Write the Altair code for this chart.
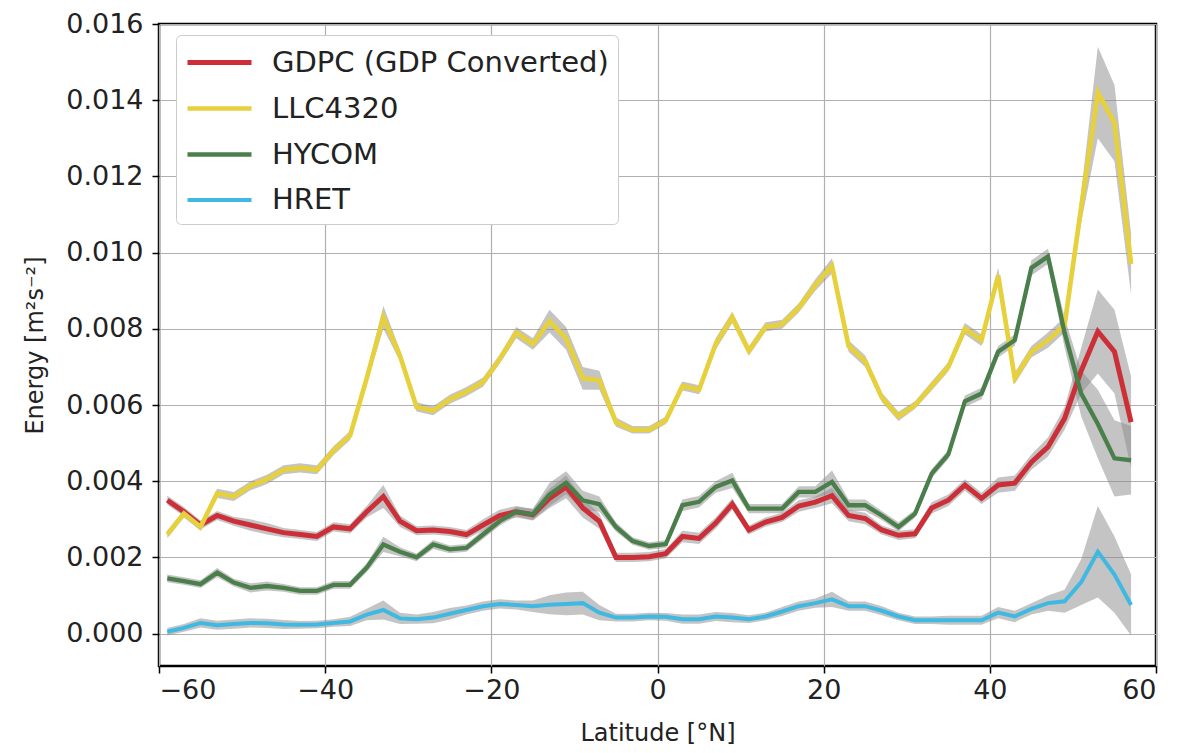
import altair as alt
import pandas as pd

lat = [-59, -57, -55, -53, -51, -49, -47, -45, -43, -41, -39, -37, -35, -33, -31,
       -29, -27, -25, -23, -21, -19, -17, -15, -13, -11, -9, -7, -5, -3, -1,
       1, 3, 5, 7, 9, 11, 13, 15, 17, 19, 21, 23, 25, 27, 29,
       31, 33, 35, 37, 39, 41, 43, 45, 47, 49, 51, 53, 55, 57]

series_names = ["GDPC (GDP Converted)", "LLC4320", "HYCOM", "HRET"]
series_colors = ["#cc2f38", "#e6d03c", "#4a7e4a", "#3fb8e2"]
series_widths = [5.0, 4.0, 3.0, 3.5]

gdpc = [0.0035, 0.0032, 0.00285, 0.0031, 0.00295, 0.00285, 0.00275, 0.00265, 0.0026, 0.00255,
        0.0028, 0.00275, 0.0032, 0.0036, 0.00295, 0.0027, 0.00272, 0.00268, 0.0026, 0.00285,
        0.0031, 0.0032, 0.00312, 0.00355, 0.00385, 0.0033, 0.00295, 0.002, 0.002, 0.00202,
        0.0021, 0.00255, 0.0025, 0.0029, 0.0034, 0.00272, 0.00293, 0.00305, 0.00335, 0.00345,
        0.00362, 0.0031, 0.00302, 0.00272, 0.00258, 0.00262, 0.0033, 0.0035, 0.0039, 0.00355,
        0.0039, 0.00395, 0.0045, 0.0049, 0.00565, 0.0069, 0.00793, 0.0074, 0.00555]
gdpc_err = [0.00012, 0.00012, 0.00012, 0.00012, 0.00012, 0.00015, 0.00015, 0.00012, 0.00012, 0.00012,
            0.00012, 0.00012, 0.00015, 0.0003, 0.00015, 0.00012, 0.00012, 0.00012, 0.00012, 0.00015,
            0.00015, 0.00015, 0.00015, 0.00025, 0.0003, 0.00025, 0.0002, 0.00012, 0.00012, 0.00012,
            0.00012, 0.00015, 0.00015, 0.00015, 0.00015, 0.00012, 0.00012, 0.00012, 0.00015, 0.00015,
            0.0002, 0.00015, 0.00015, 0.00012, 0.00012, 0.00012, 0.00015, 0.00015, 0.00015, 0.00015,
            0.0002, 0.0002, 0.0002, 0.00025, 0.0003, 0.0006, 0.0011, 0.0011, 0.0012]

llc = [0.0026, 0.00315, 0.0028, 0.00368, 0.0036, 0.00388, 0.00405, 0.0043, 0.00435, 0.0043,
       0.0048, 0.0052, 0.0067, 0.0083, 0.0073, 0.00595, 0.00585, 0.00615, 0.00635, 0.0066,
       0.0072, 0.0079, 0.0076, 0.0082, 0.00775, 0.0067, 0.00665, 0.00555, 0.00535, 0.00535,
       0.0056, 0.0065, 0.0064, 0.0076, 0.0083, 0.00742, 0.00805, 0.00812, 0.00855, 0.00915,
       0.00965, 0.00755, 0.00715, 0.0062, 0.0057, 0.006, 0.0065, 0.007, 0.008, 0.0077,
       0.0094, 0.0067, 0.0074, 0.0077, 0.0081, 0.0112, 0.0142, 0.0134, 0.0097]
llc_err = [0.0001, 0.0001, 0.0001, 0.00012, 0.00012, 0.00012, 0.00012, 0.00012, 0.00012, 0.00012,
           0.00012, 0.00012, 0.00015, 0.0003, 0.00015, 0.00012, 0.00012, 0.00012, 0.00012, 0.00012,
           0.00012, 0.00015, 0.00015, 0.0003, 0.0003, 0.0003, 0.00025, 0.00012, 0.0001, 0.0001,
           0.0001, 0.00012, 0.00012, 0.00015, 0.00015, 0.00012, 0.00012, 0.00012, 0.00012, 0.00015,
           0.0002, 0.00015, 0.00015, 0.00012, 0.00012, 0.0001, 0.00012, 0.00012, 0.00015, 0.00015,
           0.0002, 0.00015, 0.00015, 0.0002, 0.0002, 0.0004, 0.0012, 0.001, 0.0008]

hycom = [0.00145, 0.00138, 0.0013, 0.0016, 0.00134, 0.0012, 0.00125, 0.0012, 0.00112, 0.00112,
         0.00128, 0.00128, 0.00173, 0.00234, 0.00215, 0.002, 0.00234, 0.00221, 0.00225, 0.0026,
         0.00295, 0.0032, 0.00313, 0.00365, 0.00396, 0.0035, 0.0034, 0.0028, 0.00243, 0.0023,
         0.00235, 0.00337, 0.00346, 0.00385, 0.00402, 0.00328, 0.00328, 0.00328, 0.00372, 0.00372,
         0.00398, 0.00337, 0.00337, 0.0031, 0.0028, 0.00315, 0.0042, 0.0047, 0.0061, 0.0063,
         0.0074, 0.0077, 0.0096, 0.0099, 0.0079, 0.0063, 0.0055, 0.0046, 0.00455]
hycom_err = [0.0001, 0.0001, 0.0001, 0.00012, 0.0001, 0.00012, 0.00012, 0.0001, 0.0001, 0.0001,
             0.0001, 0.0001, 0.00012, 0.0002, 0.00012, 0.0001, 0.00012, 0.0001, 0.0001, 0.00012,
             0.00012, 0.00012, 0.00015, 0.0003, 0.0003, 0.00025, 0.0002, 0.00012, 0.0001, 0.0001,
             0.0001, 0.00015, 0.00015, 0.00015, 0.0002, 0.00012, 0.00012, 0.00012, 0.00015, 0.00015,
             0.0003, 0.00015, 0.00015, 0.00012, 0.00012, 0.0001, 0.00012, 0.00012, 0.00015, 0.00015,
             0.00015, 0.00015, 0.0002, 0.0002, 0.0004, 0.0006, 0.0009, 0.001, 0.0009]

hret = [0.00005, 0.00015, 0.00028, 0.00022, 0.00025, 0.00028, 0.00027, 0.00024, 0.00023, 0.00024,
        0.00028, 0.00032, 0.0005, 0.00062, 0.0004, 0.00038, 0.00042, 0.00052, 0.00062, 0.00072,
        0.00078, 0.00075, 0.00072, 0.00076, 0.00078, 0.0008, 0.00055, 0.00042, 0.00042, 0.00045,
        0.00044, 0.00038, 0.00038, 0.00045, 0.00042, 0.00038, 0.00045, 0.00058, 0.00072, 0.0008,
        0.0009, 0.00072, 0.00072, 0.0006, 0.00045, 0.00035, 0.00035, 0.00035, 0.00035, 0.00035,
        0.00055, 0.00045, 0.00065, 0.0008, 0.00085, 0.00135, 0.00215, 0.00155, 0.00075]
hret_err = [0.0001, 0.0001, 0.00012, 0.00012, 0.00012, 0.00012, 0.00012, 0.00012, 0.0001, 0.0001,
            0.0001, 0.00012, 0.00015, 0.00025, 0.00015, 0.00012, 0.00015, 0.00015, 0.00012, 0.00012,
            0.00012, 0.00012, 0.00015, 0.00025, 0.0003, 0.0003, 0.0002, 0.0001, 0.0001, 0.0001,
            0.0001, 0.00012, 0.00012, 0.00012, 0.00012, 0.0001, 0.0001, 0.00012, 0.00012, 0.00012,
            0.0002, 0.00012, 0.00012, 0.00012, 0.0001, 0.0001, 0.0001, 0.00012, 0.00012, 0.00012,
            0.00015, 0.00015, 0.00015, 0.0002, 0.0003, 0.0006, 0.0012, 0.001, 0.0008]

x_ticks = [-60, -40, -20, 0, 20, 40, 60]
y_ticks = [0.0, 0.002, 0.004, 0.006, 0.008, 0.010, 0.012, 0.014, 0.016]

rows = []
for name, vals, errs in zip(series_names, [gdpc, llc, hycom, hret],
                            [gdpc_err, llc_err, hycom_err, hret_err]):
    for la, v, e in zip(lat, vals, errs):
        rows.append({"series": name, "lat": la, "value": v, "lo": v - e, "hi": v + e})
df = pd.DataFrame(rows)

FONT = "DejaVu Sans"

x_enc = alt.X("lat:Q", scale=alt.Scale(domain=[-60, 60], nice=False),
              axis=alt.Axis(values=x_ticks, format="d", title="Latitude [°N]",
                            titlePadding=18))
y_scale = alt.Scale(domain=[-0.00085, 0.016], nice=False, zero=False)

bands = alt.Chart(df).mark_area(color="#8a8a8a", opacity=0.5, clip=True).encode(
    x=x_enc,
    y=alt.Y("lo:Q", scale=y_scale,
            axis=alt.Axis(values=y_ticks, format=".3f", title="Energy [m²s⁻²]",
                          labelPadding=9, titlePadding=18)),
    y2="hi:Q",
    detail="series:N",
)

lines = alt.Chart(df).mark_line(clip=True).encode(
    x=alt.X("lat:Q"),
    y=alt.Y("value:Q", scale=y_scale),
    color=alt.Color("series:N", scale=alt.Scale(domain=series_names, range=series_colors),
                    legend=alt.Legend(title=None)),
    strokeWidth=alt.StrokeWidth("series:N",
                                scale=alt.Scale(domain=series_names, range=series_widths),
                                legend=None),
    order=alt.Order("lat:Q"),
)

chart = alt.layer(bands, lines).properties(
    width=997, height=642,
    autosize=alt.AutoSizeParams(type="none"),
    padding={"left": 151, "top": 16, "right": 15, "bottom": 79},
).configure_view(
    stroke="black", strokeWidth=2.5,
).configure_axis(
    labelFont=FONT, titleFont=FONT, labelFontSize=27, titleFontSize=24,
    labelColor="#222222", titleColor="#222222", titleFontWeight="normal",
    grid=True, gridColor="#b0b0b0", gridWidth=1.2,
    domain=False, tickColor="black", tickSize=7, tickWidth=1.5, labelPadding=4,
).configure_legend(
    orient="none", legendX=17, legendY=11,
    symbolType="M-1,0H3", symbolSize=1024, symbolStrokeWidth=4.5,
    labelFont=FONT, labelFontSize=29, labelColor="#222222", labelLimit=600,
    labelOffset=50, rowPadding=12, padding=9,
    strokeColor="#cccccc", cornerRadius=5, fillColor="white",
)

chart.save("out.html", embed_options={"renderer": "svg", "actions": False})
